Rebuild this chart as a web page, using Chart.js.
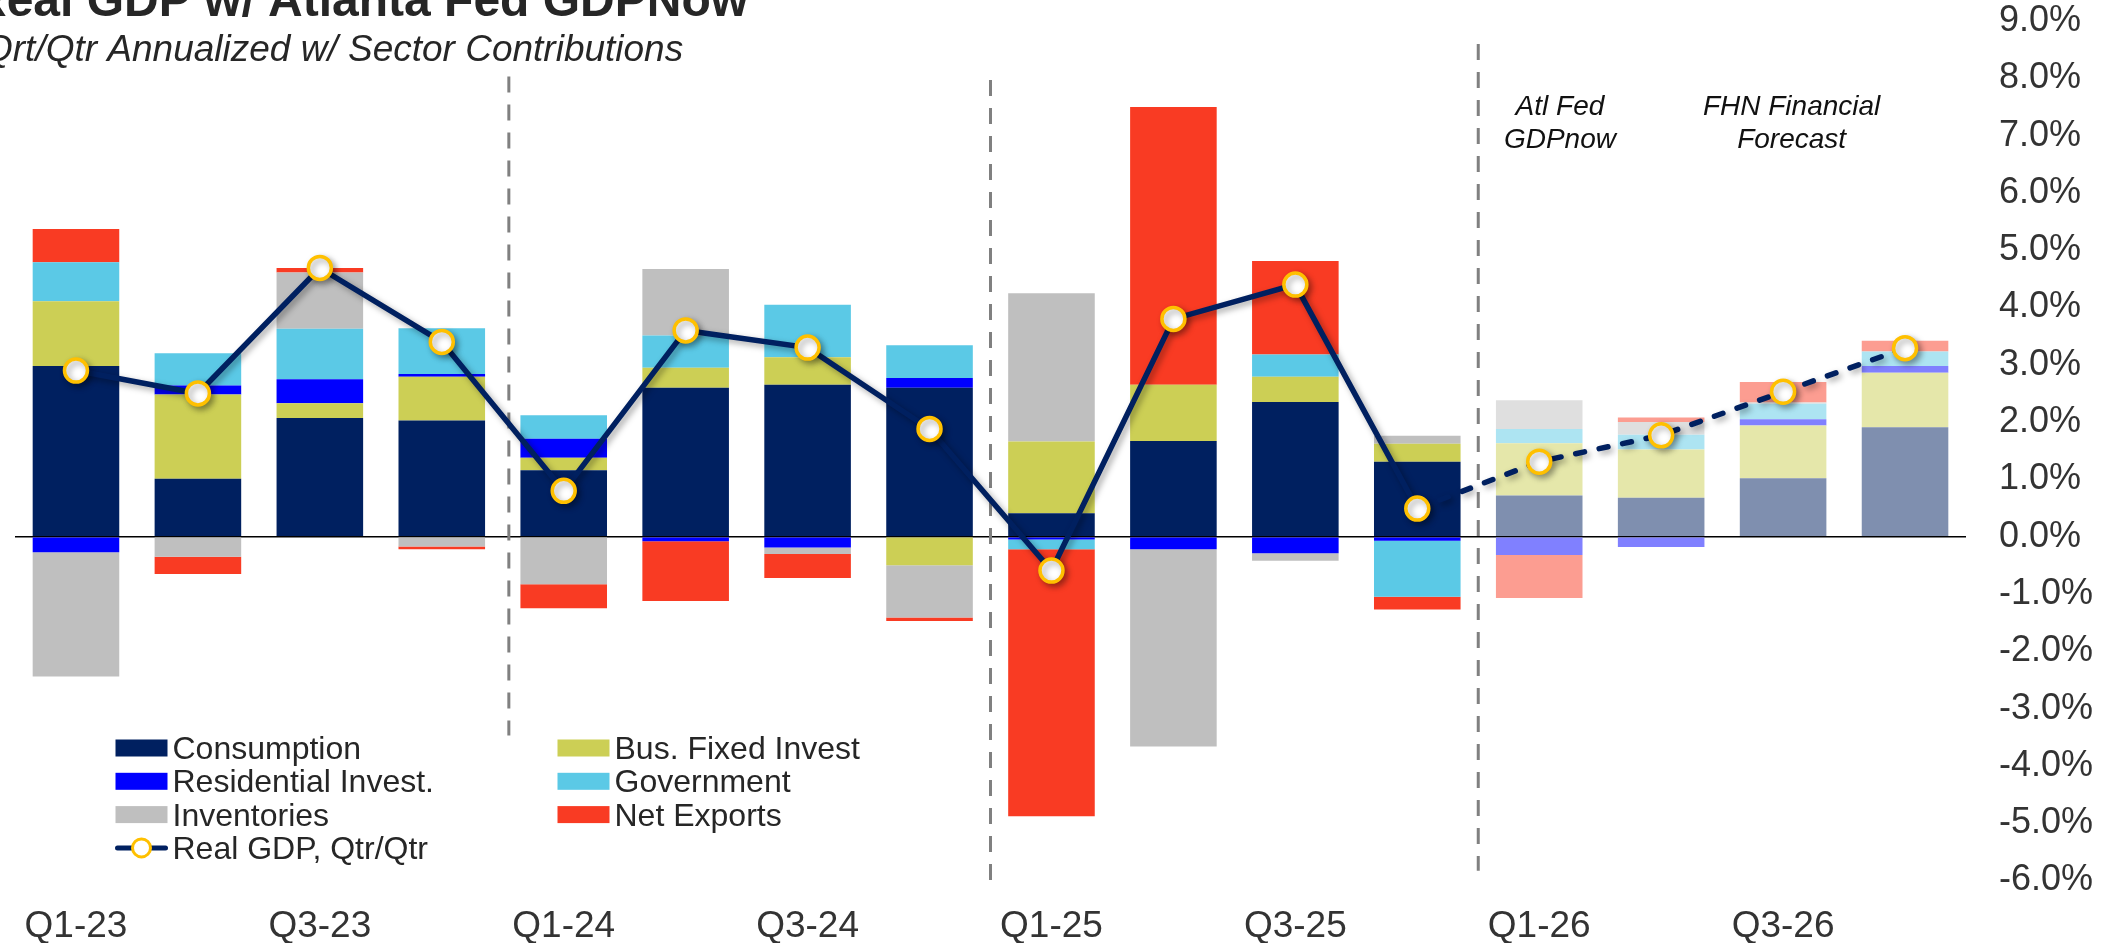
<!DOCTYPE html>
<html>
<head>
<meta charset="utf-8">
<title>Real GDP w/ Atlanta Fed GDPNow</title>
<script src="https://cdn.jsdelivr.net/npm/chart.js@4.4.1/dist/chart.umd.min.js"></script>
<style>
  html, body { margin: 0; padding: 0; background: #fff; }
  #wrap { position: relative; width: 2108px; height: 943px; }
</style>
</head>
<body>
<div id="wrap"><canvas id="gdpChart"></canvas></div>
<script>
// Real GDP q/q annualized with sector contributions (pct pts)
// actuals through Q4-25, Q1-26 = Atl Fed GDPNow, rest = FHN forecast
const quarters = ['Q1-23', 'Q2-23', 'Q3-23', 'Q4-23', 'Q1-24', 'Q2-24', 'Q3-24', 'Q4-24',
                  'Q1-25', 'Q2-25', 'Q3-25', 'Q4-25', 'Q1-26', 'Q2-26', 'Q3-26', 'Q4-26'];
const consumption = [2.98, 1.01, 2.07, 2.03, 1.16, 2.60, 2.65, 2.60, 0.41, 1.67, 2.35, 1.31, 0.72, 0.68, 1.02, 1.91];
const busFixed    = [1.13, 1.47, 0.26, 0.76, 0.22, 0.35, 0.48, -0.50, 1.25, 0.98, 0.44, 0.31, 0.91, 0.84, 0.92, 0.95];
const residential = [-0.27, 0.16, 0.42, 0.05, 0.33, -0.08, -0.19, 0.17, -0.05, -0.22, -0.29, -0.07, -0.32, -0.18, 0.11, 0.12];
const government  = [0.68, 0.56, 0.88, 0.80, 0.41, 0.56, 0.92, 0.57, -0.17, 0.00, 0.39, -0.98, 0.25, 0.26, 0.27, 0.25];
const inventories = [-2.17, -0.35, 0.98, -0.17, -0.83, 1.16, -0.11, -0.91, 2.59, -3.44, -0.13, 0.14, 0.50, 0.22, 0.02, 0.00];
const netExports  = [0.58, -0.30, 0.08, -0.05, -0.42, -1.04, -0.42, -0.06, -4.66, 4.85, 1.63, -0.22, -0.75, 0.08, 0.36, 0.19];
const realGdp     = [2.90, 2.50, 4.69, 3.40, 0.80, 3.60, 3.30, 1.88, -0.59, 3.80, 4.40, 0.49, 1.31, 1.77, 2.53, 3.29];

const yMin = -6;
const yMax = 9;
const forecastStart = 12; // first quarter drawn in faded colours

// dashed separators: x position (category units), top and bottom (pct)
const dividerX      = [3.55, 7.5, 11.5];
const dividerTop    = [8.03, 7.97, 8.6];
const dividerBottom = [-3.47, -6.0, -5.83];

const FONT = '"Liberation Sans", Arial, sans-serif';
Chart.defaults.font.family = FONT;
Chart.defaults.color = '#333333';

const sectors = [
    { label: 'Consumption',         data: consumption, color: '#002060', light: '#7f8faf' },
    { label: 'Bus. Fixed Invest',   data: busFixed,    color: '#cccf55', light: '#e5e7aa' },
    { label: 'Residential Invest.', data: residential, color: '#0000ff', light: '#8080ff' },
    { label: 'Government',          data: government,  color: '#5bc9e6', light: '#ade4f2' },
    { label: 'Inventories',         data: inventories, color: '#bfbfbf', light: '#dfdfdf' },
    { label: 'Net Exports',         data: netExports,  color: '#f93b23', light: '#fc9d91' }
];

const barSets = sectors.map(s => ({
    type: 'bar',
    label: s.label,
    data: s.data,
    backgroundColor: quarters.map((q, i) => i >= forecastStart ? s.light : s.color),
    borderWidth: 0,
    stack: 'gdp',
    order: 1,
    barPercentage: 0.71,
    categoryPercentage: 1
}));

const gdpLine = {
    type: 'line',
    label: 'Real GDP, Qtr/Qtr',
    data: realGdp,
    stack: 'line',
    order: 0,
    borderColor: '#002060',
    borderWidth: 5.5,
    borderCapStyle: 'round',
    tension: 0,
    pointRadius: 11.5,
    pointHoverRadius: 11.5,
    pointBorderWidth: 3.5,
    pointBackgroundColor: '#ffffff',
    pointBorderColor: '#ffc000',
    segment: {
        borderDash: c => c.p0DataIndex >= forecastStart - 1 ? [9, 15] : undefined
    }
};

// soft drop shadow under the GDP line and markers
const shadowPlugin = {
    id: 'lineShadow',
    beforeDatasetDraw(chart, args) {
        if (args.meta.type !== 'line') return;
        const ctx = chart.ctx;
        ctx.save();
        ctx.shadowColor = 'rgba(0,0,0,0.35)';
        ctx.shadowBlur = 6;
        ctx.shadowOffsetX = 3;
        ctx.shadowOffsetY = 3;
    },
    afterDatasetDraw(chart, args) {
        if (args.meta.type !== 'line') return;
        chart.ctx.restore();
    }
};

// vertical dashed separators between years / forecast block
const dividerPlugin = {
    id: 'dividers',
    beforeDatasetsDraw(chart) {
        const { ctx, scales: { x, y } } = chart;
        ctx.save();
        ctx.strokeStyle = '#808080';
        ctx.lineWidth = 3;
        ctx.setLineDash([16, 12]);
        dividerX.forEach((v, i) => {
            const px = x.getPixelForValue(v);
            ctx.beginPath();
            ctx.moveTo(px, y.getPixelForValue(dividerTop[i]));
            ctx.lineTo(px, y.getPixelForValue(dividerBottom[i]));
            ctx.stroke();
        });
        ctx.restore();
    }
};

// titles, forecast notes and the two-column legend
const textPlugin = {
    id: 'chartText',
    afterDraw(chart) {
        const { ctx, chartArea, scales: { x, y } } = chart;
        ctx.save();
        ctx.fillStyle = '#262626';
        ctx.textAlign = 'left';
        ctx.textBaseline = 'alphabetic';
        ctx.font = 'bold 48px ' + FONT;
        ctx.fillText('Real GDP w/ Atlanta Fed GDPNow', -28, 16);
        ctx.font = 'italic 37px ' + FONT;
        ctx.fillText('Qrt/Qtr Annualized w/ Sector Contributions', -16, 61);

        // forecast notes
        ctx.fillStyle = '#111111';
        ctx.textAlign = 'center';
        ctx.font = 'italic 28px ' + FONT;
        ctx.fillText('Atl Fed', x.getPixelForValue(12.17), y.getPixelForValue(7.36));
        ctx.fillText('GDPnow', x.getPixelForValue(12.17), y.getPixelForValue(6.78));
        ctx.fillText('FHN Financial', x.getPixelForValue(14.07), y.getPixelForValue(7.36));
        ctx.fillText('Forecast', x.getPixelForValue(14.07), y.getPixelForValue(6.78));

        // legend
        const rowH = 33.3;
        const row0 = chartArea.bottom - 132.5;
        const cols = [chartArea.left + 100.5, chartArea.left + 542.5];
        const items = [
            { col: 0, row: 0, s: sectors[0] },
            { col: 0, row: 1, s: sectors[2] },
            { col: 0, row: 2, s: sectors[4] },
            { col: 1, row: 0, s: sectors[1] },
            { col: 1, row: 1, s: sectors[3] },
            { col: 1, row: 2, s: sectors[5] }
        ];
        ctx.textAlign = 'left';
        ctx.font = '32px ' + FONT;
        items.forEach(it => {
            const lx = cols[it.col];
            const cy = row0 + it.row * rowH;
            ctx.fillStyle = it.s.color;
            ctx.fillRect(lx, cy - 8.5, 52, 17);
            ctx.fillStyle = '#262626';
            ctx.fillText(it.s.label, lx + 57, cy + 11);
        });
        // line entry
        const ly = row0 + 3 * rowH;
        const lx = cols[0];
        ctx.strokeStyle = '#002060';
        ctx.lineWidth = 5;
        ctx.lineCap = 'round';
        ctx.beginPath();
        ctx.moveTo(lx + 2, ly);
        ctx.lineTo(lx + 50, ly);
        ctx.stroke();
        ctx.beginPath();
        ctx.arc(lx + 26, ly, 9, 0, Math.PI * 2);
        ctx.fillStyle = '#ffffff';
        ctx.fill();
        ctx.lineWidth = 3;
        ctx.strokeStyle = '#ffc000';
        ctx.stroke();
        ctx.fillStyle = '#262626';
        ctx.fillText(gdpLine.label, lx + 57, ly + 11);
        ctx.restore();
    }
};

new Chart(document.getElementById('gdpChart').getContext('2d'), {
    data: {
        labels: quarters,
        datasets: barSets.concat([gdpLine])
    },
    options: {
        responsive: true,
        maintainAspectRatio: false,
        animation: false,
        layout: { padding: { left: 11, top: 0, right: 0, bottom: 0 } },
        plugins: {
            legend: { display: false },
            tooltip: { enabled: false }
        },
        scales: {
            x: {
                stacked: true,
                grid: { display: false, drawTicks: false },
                border: { display: false },
                ticks: {
                    autoSkip: false,
                    maxRotation: 0,
                    padding: 24,
                    color: '#333333',
                    font: { size: 37 },
                    callback: function(value, index) {
                        return index % 2 === 0 ? this.getLabelForValue(value) : '';
                    }
                },
                afterFit: function(scale) { scale.height = 62.5; }
            },
            y: {
                stacked: true,
                position: 'right',
                min: yMin,
                max: yMax,
                grid: {
                    drawTicks: false,
                    lineWidth: 1.5,
                    color: c => c.tick && c.tick.value === 0 ? '#000000' : 'rgba(0,0,0,0)'
                },
                border: { display: false },
                ticks: {
                    stepSize: 1,
                    padding: 33,
                    color: '#333333',
                    font: { size: 36 },
                    callback: v => v.toFixed(1) + '%'
                },
                afterFit: function(scale) {
                    scale.width = 142;
                    scale.paddingTop = 21;
                    scale.paddingBottom = 0;
                }
            }
        }
    },
    plugins: [dividerPlugin, shadowPlugin, textPlugin]
});
</script>
</body>
</html>
